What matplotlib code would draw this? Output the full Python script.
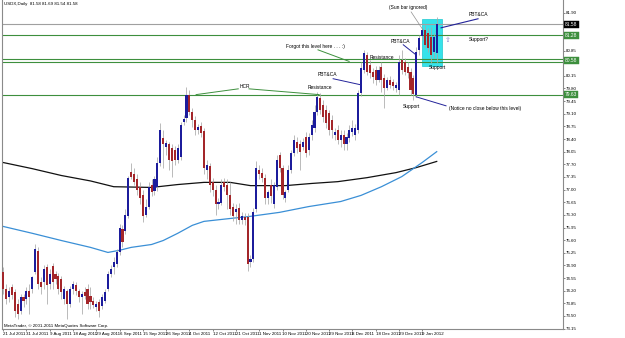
"""USDX daily candles with hand-drawn levels, MetaTrader style."""
import matplotlib

matplotlib.use("Agg")
import matplotlib.pyplot as plt
import matplotlib.transforms as mtransforms
from matplotlib.patches import Rectangle
import numpy as np

plt.rcParams['font.family'] = ['Liberation Sans', 'DejaVu Sans']

# daily OHLC, one value per bar starting 21 Jul 2011
opens = [74.71, 74.24, 74.02, 74.30, 74.16, 73.83, 73.63, 74.02, 73.96, 74.18,
         74.24, 74.71, 75.29, 74.43, 74.43, 74.85, 74.38, 74.88, 74.65, 74.60,
         74.52, 73.96, 74.18, 73.83, 74.24, 74.35, 74.18, 74.02, 74.16, 74.24,
         74.05, 73.91, 73.74, 73.88, 73.77, 73.91, 74.24, 74.65, 74.85, 74.93,
         75.26, 75.90, 75.84, 76.26, 77.50, 77.42, 77.28, 77.08, 76.86, 76.31,
         76.53, 77.14, 76.95, 77.06, 77.75, 78.44, 78.19, 78.25, 78.16, 78.11,
         77.83, 77.89, 78.88, 78.99, 79.63, 79.16, 78.94, 78.66, 78.77, 78.63,
         77.55, 77.64, 77.20, 77.00, 76.59, 76.64, 77.20, 77.14, 76.86, 76.53,
         76.37, 76.50, 76.17, 76.23, 76.23, 74.99, 75.07, 76.45, 77.55, 77.47,
         77.33, 76.78, 77.14, 76.59, 77.08, 77.97, 77.61, 76.78, 77.00, 77.55,
         78.02, 78.33, 78.25, 78.19, 78.47, 78.11, 78.52, 78.71, 79.16, 79.54,
         79.35, 79.21, 79.13, 78.94, 78.52, 78.66, 78.38, 78.52, 78.25, 78.44,
         78.60, 78.52, 78.66, 79.68, 80.32, 80.73, 80.45, 80.26, 80.32, 80.04,
         80.40, 80.10, 79.82, 80.04, 79.99, 79.82, 79.76, 80.59, 80.54, 80.40,
         80.26, 80.10, 79.63, 80.87, 81.26, 81.42, 81.34, 81.23, 80.81, 80.79]
highs = [74.85, 74.38, 74.30, 74.38, 74.24, 73.96, 74.10, 74.10, 74.30, 74.38,
         74.60, 75.48, 75.40, 74.57, 74.90, 74.93, 74.79, 74.96, 74.74, 74.68,
         74.60, 74.32, 74.24, 74.32, 74.46, 74.43, 74.24, 74.18, 74.30, 74.38,
         74.30, 74.02, 73.91, 73.96, 74.10, 74.24, 74.74, 74.90, 75.12, 75.35,
         76.06, 76.01, 76.45, 77.39, 77.75, 77.61, 77.42, 77.20, 77.00, 76.73,
         77.20, 77.28, 77.39, 77.89, 78.85, 78.66, 78.38, 78.33, 78.25, 78.22,
         78.25, 78.88, 79.07, 79.85, 79.76, 79.27, 79.05, 78.83, 78.88, 78.71,
         77.83, 77.75, 77.33, 77.14, 76.78, 77.28, 77.33, 77.28, 77.20, 76.64,
         76.59, 76.64, 76.39, 76.34, 76.34, 75.18, 76.50, 77.78, 77.69, 77.61,
         77.44, 77.00, 77.28, 77.22, 77.97, 78.05, 77.69, 77.00, 77.69, 78.11,
         78.52, 78.47, 78.38, 78.44, 78.60, 78.58, 78.94, 79.35, 79.71, 79.68,
         79.49, 79.35, 79.21, 79.07, 78.71, 78.80, 78.66, 78.66, 78.58, 78.80,
         78.94, 78.83, 79.76, 80.54, 80.87, 80.81, 80.59, 80.37, 80.43, 80.43,
         80.54, 80.21, 80.12, 80.15, 80.07, 79.99, 80.73, 80.87, 80.65, 80.54,
         80.37, 80.18, 80.95, 81.28, 81.48, 81.56, 81.48, 81.50, 81.34, 81.78]
lows = [74.10, 73.83, 73.88, 73.96, 73.47, 73.41, 73.55, 73.74, 73.83, 73.55,
        74.13, 74.65, 74.24, 74.10, 74.24, 73.83, 74.24, 74.24, 74.38, 74.10,
        73.96, 73.83, 73.41, 73.74, 74.10, 74.07, 73.88, 73.55, 73.96, 73.69,
        73.69, 73.72, 73.63, 73.47, 73.69, 73.85, 74.18, 74.57, 74.65, 74.85,
        75.18, 75.40, 75.76, 76.20, 77.28, 77.14, 76.86, 76.59, 76.09, 76.23,
        76.45, 76.81, 76.86, 76.95, 77.66, 77.61, 77.97, 77.55, 77.36, 77.69,
        77.75, 77.83, 78.80, 78.88, 79.07, 78.74, 78.52, 78.55, 78.47, 77.42,
        77.28, 76.92, 76.81, 76.31, 76.45, 76.56, 76.95, 76.45, 76.31, 76.12,
        76.04, 76.04, 76.04, 76.01, 74.74, 74.85, 74.99, 76.39, 77.28, 77.20,
        76.59, 76.59, 76.64, 76.50, 77.00, 77.50, 76.73, 76.67, 76.92, 77.47,
        77.94, 78.02, 77.55, 78.11, 77.89, 77.97, 78.38, 78.60, 79.07, 79.10,
        78.88, 78.71, 78.52, 78.44, 78.38, 78.25, 78.19, 78.11, 78.11, 78.33,
        78.49, 78.38, 78.58, 79.60, 80.23, 80.18, 80.10, 79.96, 79.90, 79.99,
        79.71, 79.27, 79.76, 79.82, 79.76, 79.71, 79.63, 80.21, 80.18, 80.10,
        79.63, 79.49, 79.57, 80.73, 81.15, 80.92, 80.81, 80.51, 80.65, 80.51]
closes = [74.24, 73.96, 74.18, 74.07, 73.63, 73.55, 74.02, 73.91, 74.18, 74.02,
          74.57, 75.35, 74.38, 74.30, 74.79, 74.35, 74.65, 74.43, 74.52, 74.24,
          74.16, 74.24, 73.83, 74.24, 74.38, 74.18, 74.02, 74.10, 74.05, 73.83,
          73.88, 73.80, 73.83, 73.63, 74.02, 74.16, 74.65, 74.79, 74.99, 75.26,
          75.95, 75.54, 76.31, 77.33, 77.36, 77.22, 77.00, 76.78, 76.26, 76.53,
          77.08, 76.92, 77.28, 77.75, 78.66, 78.25, 78.30, 77.83, 77.78, 77.83,
          78.16, 78.80, 78.96, 79.63, 79.16, 78.94, 78.66, 78.74, 78.58, 77.61,
          77.69, 77.14, 77.00, 76.59, 76.67, 77.14, 77.08, 76.86, 76.45, 76.26,
          76.45, 76.17, 76.26, 76.17, 74.93, 75.07, 76.39, 77.61, 77.42, 77.33,
          76.78, 76.92, 76.81, 77.14, 77.83, 77.61, 76.86, 76.92, 77.55, 78.02,
          78.38, 78.16, 78.05, 78.33, 78.02, 78.47, 78.80, 79.16, 79.57, 79.21,
          79.02, 78.85, 78.66, 78.66, 78.60, 78.38, 78.52, 78.25, 78.47, 78.66,
          78.71, 78.71, 79.68, 80.37, 80.79, 80.26, 80.23, 80.12, 80.04, 80.32,
          80.04, 79.82, 80.04, 79.90, 79.87, 79.90, 80.54, 80.32, 80.26, 80.23,
          79.76, 79.65, 80.81, 81.20, 81.42, 81.01, 80.92, 80.73, 81.23, 81.58]

# moving averages read at a few bars
slow_ma_bars = [0, 10, 20, 30, 38, 51, 60, 69, 78, 85, 97, 106, 115, 125, 135, 142, 149]
slow_ma = [77.75, 77.58, 77.39, 77.24, 77.08, 77.06, 77.14, 77.20, 77.20, 77.11,
           77.11, 77.17, 77.22, 77.33, 77.47, 77.61, 77.78]
fast_ma_bars = [0, 10, 20, 30, 36, 40, 44, 51, 55, 60, 65, 69, 78, 85, 95, 105,
                116, 123, 130, 137, 144, 149]
fast_ma = [75.98, 75.79, 75.59, 75.40, 75.26, 75.32, 75.40, 75.48, 75.59, 75.79,
           76.01, 76.12, 76.20, 76.26, 76.37, 76.53, 76.67, 76.84, 77.08, 77.36,
           77.75, 78.05]

date_labels = ["21 Jul 2011", "31 Jul 2011", "9 Aug 2011", "18 Aug 2011", "29 Aug 2011",
               "6 Sep 2011", "15 Sep 2011", "26 Sep 2011", "4 Oct 2011", "12 Oct 2011",
               "21 Oct 2011", "1 Nov 2011", "10 Nov 2011", "20 Nov 2011", "29 Nov 2011",
               "8 Dec 2011", "18 Dec 2011", "29 Dec 2011", "9 Jan 2012"]
label_every = 8

# scale labels; the ones under the level boxes are hidden by them
price_ticks = [73.15, 73.50, 73.85, 74.20, 74.55, 74.90, 75.25, 75.60, 75.95, 76.30,
               76.65, 77.00, 77.35, 77.70, 78.05, 78.40, 78.75, 79.10, 79.45, 79.80,
               80.15, 80.85, 81.90]
levels = [81.28, 80.61, 80.54, 79.63]
bid = 81.58

BULL = "#1c1c9c"
BEAR = "#a3262a"
WICK = "#a8a8a8"
GREEN = "#3d8f3d"
NAVY = "#23239a"
FS = 3.5

fig = plt.figure(figsize=(6.25, 3.38), dpi=100)
ax = fig.add_axes([2 / 625, 9 / 338, 561 / 625, 329 / 338])
ax.set_xlim(-0.4, 192.4)
ax.set_ylim(73.14, 82.25)

o = np.array(opens)
h = np.array(highs)
l = np.array(lows)
c = np.array(closes)
x = np.arange(len(o))
up = c >= o

# cyan box behind the last bars
ax.add_patch(Rectangle((143.8, 80.43), 7.1, 1.30, facecolor="#36e2ea",
                       edgecolor="#20c8d0", lw=0.5, zorder=1))

ax.vlines(x, l, h, color=WICK, lw=0.55, zorder=3)
body = np.maximum(np.abs(c - o), 0.012)
ax.bar(x, body, bottom=np.minimum(o, c), width=0.72,
       color=np.where(up, BULL, BEAR), zorder=4, linewidth=0)

ax.plot(slow_ma_bars, slow_ma, color="#111111", lw=0.9, zorder=2)
ax.plot(fast_ma_bars, fast_ma, color="#3a8fd6", lw=0.9, zorder=2)

for lv in levels:
    ax.axhline(lv, color=GREEN, lw=0.8, zorder=2)
ax.axhline(bid, color="#a0a0a0", lw=0.8, zorder=2)

# price label boxes on the right scale
trans = mtransforms.blended_transform_factory(ax.transAxes, ax.transData)
box_labels = [(81.28, GREEN), (80.58, GREEN), (79.63, GREEN), (bid, "black")]
for lv, col in box_labels:
    ax.text(1.004, lv, f"{lv:.2f}", transform=trans, fontsize=FS, color="white",
            va="center", ha="left", clip_on=False, zorder=6,
            bbox=dict(boxstyle="square,pad=0.2", fc=col, ec=col, lw=0.3))

# annotation lines
ax.plot([66.3, 80.8], [79.63, 79.79], color=GREEN, lw=0.7, zorder=5)
ax.plot([84.5, 108.6], [79.79, 79.63], color=GREEN, lw=0.7, zorder=5)
ax.plot([108.2, 118.9], [80.87, 80.55], color=GREEN, lw=0.7, zorder=5)
ax.plot([113.4, 123.0], [80.07, 79.90], color=NAVY, lw=0.7, zorder=5)
ax.plot([137.5, 141.9], [81.01, 80.73], color=NAVY, lw=0.7, zorder=5)
ax.plot([140.2, 144.3], [81.92, 81.42], color="#909090", lw=0.5, zorder=5)
ax.plot([150.5, 163.2], [81.48, 81.73], color=NAVY, lw=0.8, zorder=5)
ax.plot([141.9, 152.2], [79.57, 79.32], color=NAVY, lw=0.7, zorder=5)

notes = [
    ("HCR", 81.1, 79.85),
    ("Resistance", 104.5, 79.82),
    ("PBT&CA", 107.9, 80.18),
    ("Forgot this level here . . . :)", 97.3, 80.95),
    ("Resistance", 125.8, 80.65),
    ("PBT&CA", 133.0, 81.09),
    ("(Sun bar ignored)", 132.6, 82.03),
    ("PBT&CA", 160.1, 81.84),
    ("Support?", 160.1, 81.15),
    ("Support", 146.4, 80.37),
    ("Support", 137.5, 79.29),
    ("(Notice no close below this level)", 153.3, 79.24),
]
for txt, nx, ny in notes:
    ax.text(nx, ny, txt, fontsize=FS, color="black", ha="left", va="center", zorder=7)

ax.text(152.9, 81.15, "\u21e7", fontsize=5, color="#8a7fd0", ha="center", va="center",
        family="DejaVu Sans", zorder=7)

ax.text(0.004, 0.995, "USDX,Daily  81.58 81.69 81.54 81.58", transform=ax.transAxes,
        fontsize=3.2, ha="left", va="top")
ax.text(0.004, 0.004, "MetaTrader, \u00a9 2001-2011 MetaQuotes Software Corp.",
        transform=ax.transAxes, fontsize=3.2, ha="left", va="bottom")

# axes cosmetics, MetaTrader look
ax.yaxis.tick_right()
ax.set_yticks(price_ticks)
ax.set_yticklabels([f"{p:.2f}" for p in price_ticks])
ax.set_xticks(np.arange(len(date_labels)) * label_every)
ax.set_xticklabels(date_labels, ha="left")
ax.tick_params(axis="both", labelsize=3.2, length=1.5, width=0.5, pad=0.8, color="#555555")
ax.tick_params(axis="x", pad=0.4)
for s in ["left", "right", "bottom"]:
    ax.spines[s].set_color("#8a8a8a")
    ax.spines[s].set_linewidth(0.8)
ax.spines["top"].set_visible(False)

fig.savefig("out.png", dpi=100)
